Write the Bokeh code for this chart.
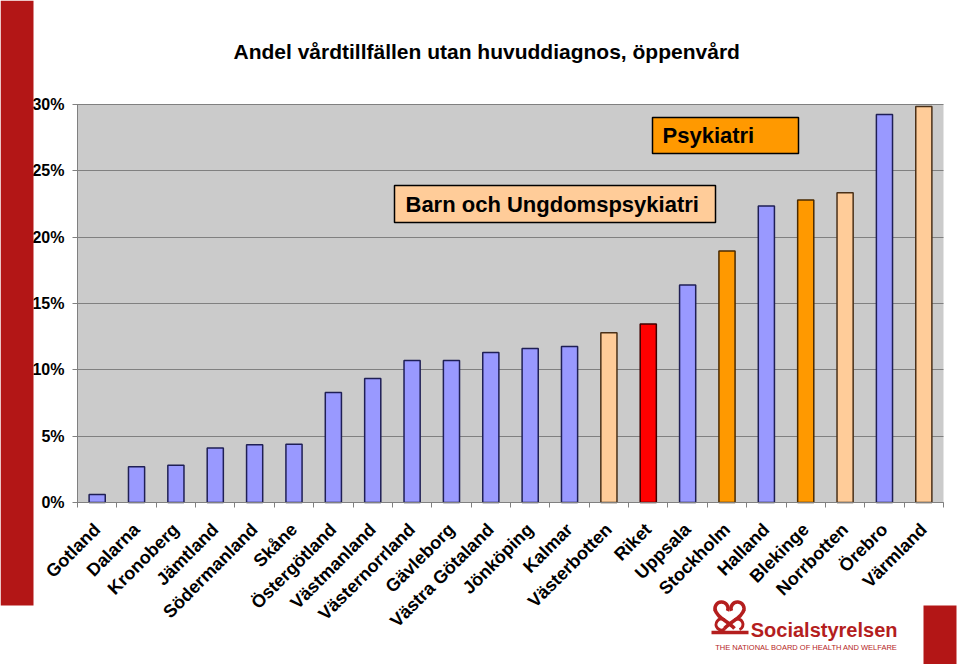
import math
from bokeh.plotting import figure
from bokeh.models import (ColumnDataSource, Range1d, FixedTicker, PrintfTickFormatter,
                          BoxAnnotation, Label)
from bokeh.embed import file_html
from bokeh.resources import INLINE

# ---- data ----
regions = ["Gotland", "Dalarna", "Kronoberg", "Jämtland", "Södermanland", "Skåne",
           "Östergötland", "Västmanland", "Västernorrland", "Gävleborg", "Västra Götaland",
           "Jönköping", "Kalmar", "Västerbotten", "Riket", "Uppsala", "Stockholm",
           "Halland", "Blekinge", "Norrbotten", "Örebro", "Värmland"]
values = [0.6, 2.7, 2.8, 4.1, 4.35, 4.4, 8.3, 9.35, 10.7, 10.7, 11.3, 11.6, 11.75,
          12.8, 13.45, 16.4, 18.95, 22.35, 22.8, 23.35, 29.25, 29.85]
groups = ["Övrig", "Övrig", "Övrig", "Övrig", "Övrig", "Övrig", "Övrig", "Övrig",
          "Övrig", "Övrig", "Övrig", "Övrig", "Övrig", "BUP", "Riket", "Övrig",
          "Psykiatri", "Övrig", "Psykiatri", "BUP", "Övrig", "BUP"]
y_ticks = [0, 5, 10, 15, 20, 25, 30]
title_text = "Andel vårdtillfällen utan huvuddiagnos, öppenvård"
box_psyk = "Psykiatri"
box_bup = "Barn och Ungdomspsykiatri"
logo_name = "Socialstyrelsen"
logo_sub = "THE NATIONAL BOARD OF HEALTH AND WELFARE"

# ---- styles / page geometry (pixels) ----
W, H = 960, 664
PLOT_L, PLOT_R, PLOT_T, PLOT_B = 77, 943, 104, 502
fill_map = {"Övrig": "#9999FF", "BUP": "#FFCC99", "Riket": "#FF0000", "Psykiatri": "#FF9900"}
line_map = {"Övrig": "#1F1F55", "BUP": "#4A3018", "Riket": "#400000", "Psykiatri": "#4A2A00"}
DARK_RED = "#B31616"
LOGO_RED = "#B41E1E"
GRID = "#808080"
FONT = "Liberation Sans"

n = len(regions)
ymax = y_ticks[-1]
sx = (PLOT_R - PLOT_L) / n          # pixels per category
sy = (PLOT_B - PLOT_T) / ymax       # pixels per percent


def X(px):
    return (px - PLOT_L) / sx


def Y(py):
    return (PLOT_B - py) / sy


centers = [i + 0.5 for i in range(n)]
src = ColumnDataSource(dict(
    x=centers, top=values, name=regions,
    fill=[fill_map[g] for g in groups],
    line=[line_map[g] for g in groups],
))

p = figure(width=W, height=H, output_backend="svg", toolbar_location=None,
           x_range=Range1d(X(0), X(W)), y_range=Range1d(Y(H), Y(0)),
           min_border=0)
p.background_fill_color = "white"
p.border_fill_color = "white"
p.outline_line_color = None

# plot-area background
p.add_layout(BoxAnnotation(left=0, right=n, bottom=0, top=ymax, fill_color="#CBCBCB",
                           fill_alpha=1.0, line_color=None, level="image"))

p.vbar(x="x", top="top", width=0.41, source=src, fill_color="fill",
       line_color="line", line_width=1.5)

# y axis (its inward ticks serve as the horizontal gridlines)
p.ygrid.visible = False
p.xgrid.visible = False
ya = p.yaxis[0]
ya.fixed_location = 0
ya.bounds = (0, ymax)
ya.level = "underlay"
ya.ticker = FixedTicker(ticks=y_ticks)
ya.formatter = PrintfTickFormatter(format="%d%%")
ya.axis_line_color = GRID
ya.major_tick_line_color = GRID
ya.major_tick_out = 5
ya.major_tick_in = PLOT_R - PLOT_L
ya.minor_tick_line_color = None
ya.major_label_text_font = FONT
ya.major_label_text_font_style = "bold"
ya.major_label_text_font_size = "16px"
ya.major_label_text_color = "black"
ya.major_label_standoff = 8

# x axis
xa = p.xaxis[0]
xa.fixed_location = 0
xa.bounds = (0, n)
xa.ticker = FixedTicker(ticks=centers, minor_ticks=list(range(n + 1)))
xa.major_label_overrides = {c: r for c, r in zip(centers, regions)}
xa.major_label_orientation = math.pi / 4
xa.axis_line_color = GRID
xa.major_tick_line_color = None
xa.major_tick_out = 0
xa.major_tick_in = 0
xa.minor_tick_line_color = GRID
xa.minor_tick_out = 5
xa.minor_tick_in = 0
xa.major_label_text_font = FONT
xa.major_label_text_font_style = "bold"
xa.major_label_text_font_size = "18px"
xa.major_label_text_color = "black"
xa.major_label_standoff = 19

# title
p.add_layout(Label(x=X(233), y=Y(51), text=title_text, text_baseline="middle",
                   text_font=FONT, text_font_style="bold", text_font_size="21px",
                   text_color="black"))

# annotation boxes
p.add_layout(BoxAnnotation(left=X(652), right=X(798), bottom=Y(153), top=Y(117),
                           fill_color="#FF9900", fill_alpha=1.0,
                           line_color="black", line_width=1.5, line_alpha=1.0))
p.add_layout(Label(x=X(662), y=Y(135), text=box_psyk, text_baseline="middle",
                   text_font=FONT, text_font_style="bold", text_font_size="22px",
                   text_color="black"))
p.add_layout(BoxAnnotation(left=X(394), right=X(715), bottom=Y(222), top=Y(185),
                           fill_color="#FFCC99", fill_alpha=1.0,
                           line_color="black", line_width=1.5, line_alpha=1.0))
p.add_layout(Label(x=X(405), y=Y(204), text=box_bup, text_baseline="middle",
                   text_font=FONT, text_font_style="bold", text_font_size="22px",
                   text_color="black"))

# decorative red bars
p.add_layout(BoxAnnotation(left=X(0), right=X(33), bottom=Y(605), top=Y(0),
                           fill_color=DARK_RED, fill_alpha=1.0, line_color=None))
p.add_layout(BoxAnnotation(left=X(923), right=X(956), bottom=Y(H), top=Y(605),
                           fill_color=DARK_RED, fill_alpha=1.0, line_color=None))

# logo mark (approximation of the intertwined emblem)
p.arc(x=[X(721), X(737)], y=[Y(608), Y(608)], radius=6.5, radius_units="screen",
      start_angle=[-0.4, -0.5], end_angle=[3.6, 3.5], line_color=LOGO_RED, line_width=3.5)
p.bezier(x0=[X(714.5), X(743.5)], y0=[Y(609), Y(609)], x1=[X(734), X(724)], y1=[Y(628), Y(628)],
         cx0=[X(716), X(742)], cy0=[Y(617), Y(617)], cx1=[X(728), X(730)], cy1=[Y(621), Y(621)],
         line_color=LOGO_RED, line_width=3.5)
p.arc(x=[X(721), X(737)], y=[Y(624), Y(624)], radius=5.5, radius_units="screen",
      start_angle=[1.0, -1.2], end_angle=[5.4, 2.1], line_color=LOGO_RED, line_width=3)
p.segment(x0=[X(711)], y0=[Y(632)], x1=[X(748)], y1=[Y(632)],
          line_color=LOGO_RED, line_width=3.5)

# logo texts
p.add_layout(Label(x=X(897), y=Y(629), text=logo_name, text_align="right",
                   text_baseline="middle", text_font=FONT, text_font_style="bold",
                   text_font_size="20px", text_color=LOGO_RED))
p.add_layout(Label(x=X(897), y=Y(647), text=logo_sub, text_align="right",
                   text_baseline="middle", text_font=FONT, text_font_size="7.5px",
                   text_color=LOGO_RED))

open("out.html", "w").write(file_html(p, INLINE))
